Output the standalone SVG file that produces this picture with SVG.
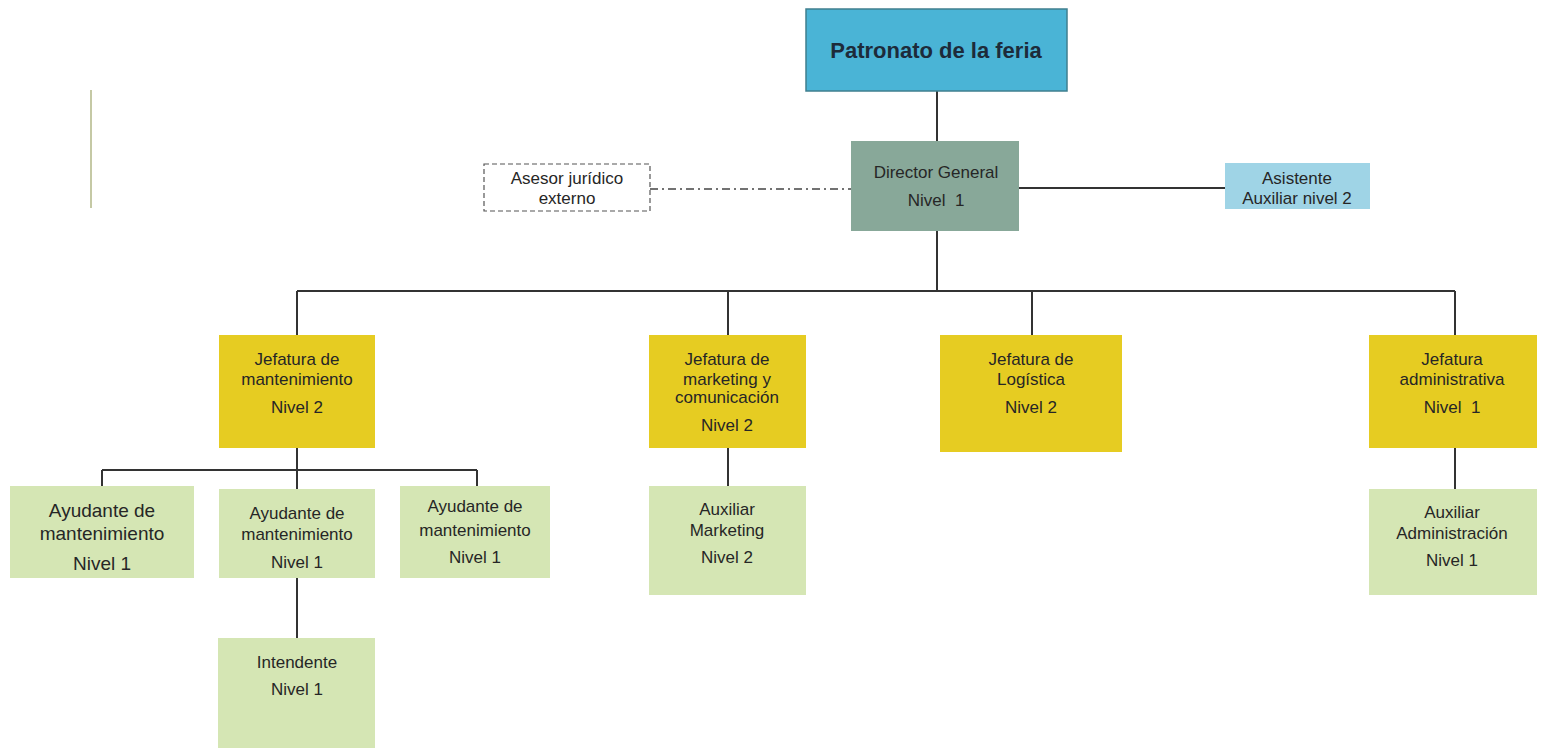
<svg xmlns="http://www.w3.org/2000/svg" width="1543" height="748" viewBox="0 0 1543 748">
<style>
text{font-family:"Liberation Sans",Arial,sans-serif;font-size:17px;fill:#262626;text-anchor:middle}
.big{font-size:19px}
.title{font-size:22px;font-weight:bold;fill:#1d2b3a}
.ln{stroke:#333;stroke-width:2;fill:none}
.yel{fill:#E6CC22}
.grn{fill:#D5E6B4}
</style>
<rect width="1543" height="748" fill="#fff"/>
<line x1="91" y1="90" x2="91" y2="208" stroke="#C5C9A5" stroke-width="2"/>
<g id="connectors">
<path class="ln" d="M937 91V141M1019 188H1225M937 231V291M297 291H1455M297 291V335M728 291V335M1032 291V335M1455 291V335M297 448V470M102 470H477M102 470V486M297 470V489M477 470V486M297 578V638M728 448V486M1455 448V489"/>
<line x1="650" y1="189" x2="851" y2="189" stroke="#444" stroke-width="1.5" stroke-dasharray="8 4 2 4"/>
</g>
<g id="patronato">
<rect x="806" y="9" width="261" height="82" fill="#4AB4D6" stroke="#3F7F8F" stroke-width="1.5"/>
<text class="title" x="936" y="58">Patronato de la feria</text>
</g>
<g id="director">
<rect x="851" y="141" width="168" height="90" fill="#88A899"/>
<text x="936" y="178">Director General</text>
<text x="936" y="206" xml:space="preserve">Nivel  1</text>
</g>
<g id="asesor">
<rect x="484" y="164" width="166" height="47" fill="#fff" stroke="#555" stroke-width="1.2" stroke-dasharray="5 3"/>
<text x="567" y="184">Asesor jurídico</text>
<text x="567" y="204">externo</text>
</g>
<g id="asistente">
<rect x="1225" y="163" width="145" height="46" fill="#9FD4E6"/>
<text x="1297" y="184">Asistente</text>
<text x="1297" y="204">Auxiliar nivel 2</text>
</g>
<g id="jef-mant">
<rect class="yel" x="219" y="335" width="156" height="113"/>
<text x="297" y="365">Jefatura de</text>
<text x="297" y="385">mantenimiento</text>
<text x="297" y="413">Nivel 2</text>
</g>
<g id="jef-mkt">
<rect class="yel" x="649" y="335" width="157" height="113"/>
<text x="727" y="365">Jefatura de</text>
<text x="727" y="385">marketing y</text>
<text x="727" y="403">comunicación</text>
<text x="727" y="431">Nivel 2</text>
</g>
<g id="jef-log">
<rect class="yel" x="940" y="335" width="182" height="117"/>
<text x="1031" y="365">Jefatura de</text>
<text x="1031" y="385">Logística</text>
<text x="1031" y="413">Nivel 2</text>
</g>
<g id="jef-adm">
<rect class="yel" x="1369" y="335" width="168" height="113"/>
<text x="1452" y="365">Jefatura</text>
<text x="1452" y="385">administrativa</text>
<text x="1452" y="413" xml:space="preserve">Nivel  1</text>
</g>
<g id="ayud1">
<rect class="grn" x="10" y="486" width="184" height="92"/>
<text class="big" x="102" y="517">Ayudante de</text>
<text class="big" x="102" y="540">mantenimiento</text>
<text class="big" x="102" y="570">Nivel 1</text>
</g>
<g id="ayud2">
<rect class="grn" x="219" y="489" width="156" height="89"/>
<text x="297" y="519">Ayudante de</text>
<text x="297" y="540">mantenimiento</text>
<text x="297" y="568">Nivel 1</text>
</g>
<g id="ayud3">
<rect class="grn" x="400" y="486" width="150" height="92"/>
<text x="475" y="512">Ayudante de</text>
<text x="475" y="536">mantenimiento</text>
<text x="475" y="563">Nivel 1</text>
</g>
<g id="intendente">
<rect class="grn" x="218" y="638" width="157" height="110"/>
<text x="297" y="668">Intendente</text>
<text x="297" y="695">Nivel 1</text>
</g>
<g id="aux-mkt">
<rect class="grn" x="649" y="486" width="157" height="109"/>
<text x="727" y="515">Auxiliar</text>
<text x="727" y="536">Marketing</text>
<text x="727" y="563">Nivel 2</text>
</g>
<g id="aux-adm">
<rect class="grn" x="1369" y="489" width="168" height="106"/>
<text x="1452" y="518">Auxiliar</text>
<text x="1452" y="539">Administración</text>
<text x="1452" y="566">Nivel 1</text>
</g>
</svg>
